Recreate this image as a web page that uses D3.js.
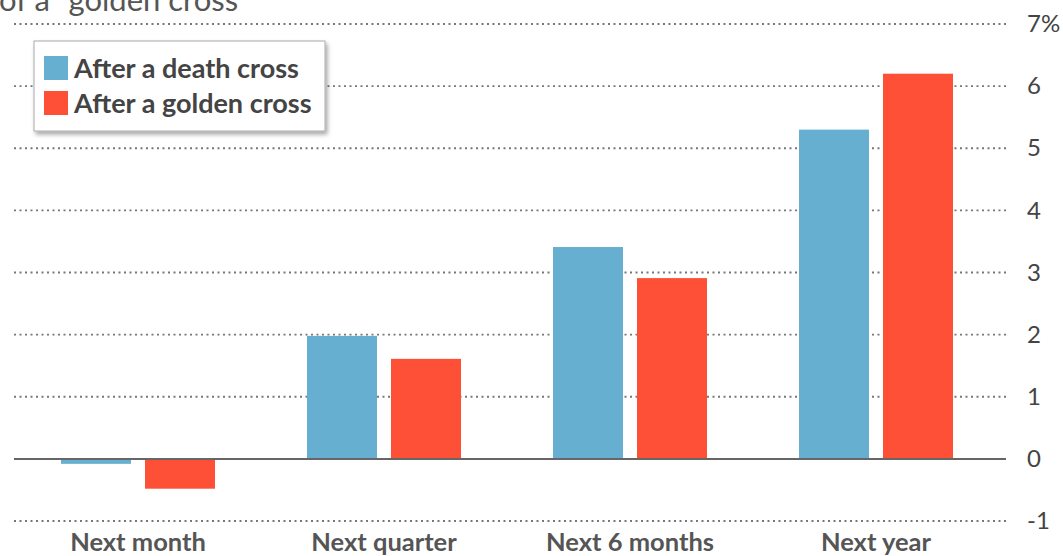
<!DOCTYPE html>
<html><head><meta charset="utf-8">
<script src="https://cdn.jsdelivr.net/npm/d3@7"></script>
<style>
html,body{margin:0;padding:0;background:#fff;}
svg{display:block;font-family:Lato,"Noto Sans",sans-serif;}
</style></head>
<body><svg id="c" width="1063" height="556"></svg>
<script>
const categories = ["Next month", "Next quarter", "Next 6 months", "Next year"];
const seriesNames = ["After a death cross", "After a golden cross"];
const deathCross = [-0.08, 1.98, 3.41, 5.30];
const goldenCross = [-0.48, 1.61, 2.91, 6.20];
const yTicks = [-1, 0, 1, 2, 3, 4, 5, 6, 7];
const yTickLabels = ["-1", "0", "1", "2", "3", "4", "5", "6", "7%"];
const colors = ["#67afd0", "#fe5036"];
const titleFragment = "of a \u201cgolden cross\u201d";

const svg = d3.select("#c");
const plotLeft = 14, plotRight = 1006;

const y = d3.scaleLinear().domain([-1, 7]).range([521, 24]);
const x0 = d3.scaleBand().domain(categories).range([15, 999]).paddingInner(0.374).paddingOuter(0.187);
const x1 = d3.scaleBand().domain(seriesNames).range([0, x0.bandwidth()]).paddingInner(0.1667);

// title fragment (cut off at the top, as in the reference)
svg.append("text").attr("x", -1).attr("y", 11).attr("font-size", 31).attr("fill", "#555")
  .text(titleFragment);

// gridlines
const yAxis = d3.axisRight(y).tickValues(yTicks).tickSize(0).tickFormat((d, i) => yTickLabels[i]);
svg.selectAll("line.grid").data(yTicks.filter(d => d !== 0)).enter().append("line")
  .attr("class", "grid")
  .attr("x1", plotLeft).attr("x2", plotRight)
  .attr("y1", d => y(d)).attr("y2", d => y(d))
  .attr("stroke", "#777").attr("stroke-width", 1.8).attr("stroke-dasharray", "2,3.5");

const gAxis = svg.append("g").attr("transform", `translate(1020,0)`).call(yAxis);
gAxis.select(".domain").remove();
gAxis.selectAll("text").attr("font-size", 24).attr("fill", "#444").attr("x", 7)
  .attr("font-family", "Lato,'Noto Sans',sans-serif");

// bars
const data = categories.map((c, i) => ({cat: c, vals: [deathCross[i], goldenCross[i]]}));
const groups = svg.selectAll("g.grp").data(data).enter().append("g")
  .attr("class", "grp").attr("transform", d => `translate(${x0(d.cat)},0)`);
groups.selectAll("rect").data(d => d.vals.map((v, j) => ({v, s: seriesNames[j], j}))).enter().append("rect")
  .attr("x", d => x1(d.s)).attr("width", x1.bandwidth())
  .attr("y", d => y(Math.max(0, d.v)))
  .attr("height", d => Math.abs(y(d.v) - y(0)))
  .attr("fill", d => colors[d.j]);

// zero line
svg.append("line").attr("x1", plotLeft).attr("x2", plotRight).attr("y1", y(0)).attr("y2", y(0))
  .attr("stroke", "#666").attr("stroke-width", 2);

// x labels
const xAxis = d3.axisBottom(x0).tickSize(0);
const gx = svg.append("g").attr("transform", `translate(0,533)`).call(xAxis);
gx.select(".domain").remove();
gx.selectAll("text").attr("font-size", 25.5).attr("font-weight", 700).attr("fill", "#555").attr("dy", "0.71em").attr("y", 0)
  .attr("font-family", "Lato,'Noto Sans',sans-serif");

// legend
const defs = svg.append("defs");
const f = defs.append("filter").attr("id", "sh").attr("x", "-10%").attr("y", "-10%").attr("width", "130%").attr("height", "140%");
f.append("feDropShadow").attr("dx", 2).attr("dy", 3).attr("stdDeviation", 2).attr("flood-color", "#000").attr("flood-opacity", 0.35);
const lg = svg.append("g").attr("transform", "translate(34,41)");
lg.append("rect").attr("width", 291).attr("height", 90).attr("fill", "#fff")
  .attr("stroke", "#aaa").attr("stroke-width", 1).attr("filter", "url(#sh)");
seriesNames.forEach((s, i) => {
  lg.append("rect").attr("x", 10).attr("y", 15 + i * 35).attr("width", 24).attr("height", 24).attr("fill", colors[i]);
  lg.append("text").attr("x", 40).attr("y", 27 + i * 35).attr("dy", "0.36em")
    .attr("font-size", 27).attr("font-weight", 700).attr("fill", "#444").text(s);
});
</script></body></html>
